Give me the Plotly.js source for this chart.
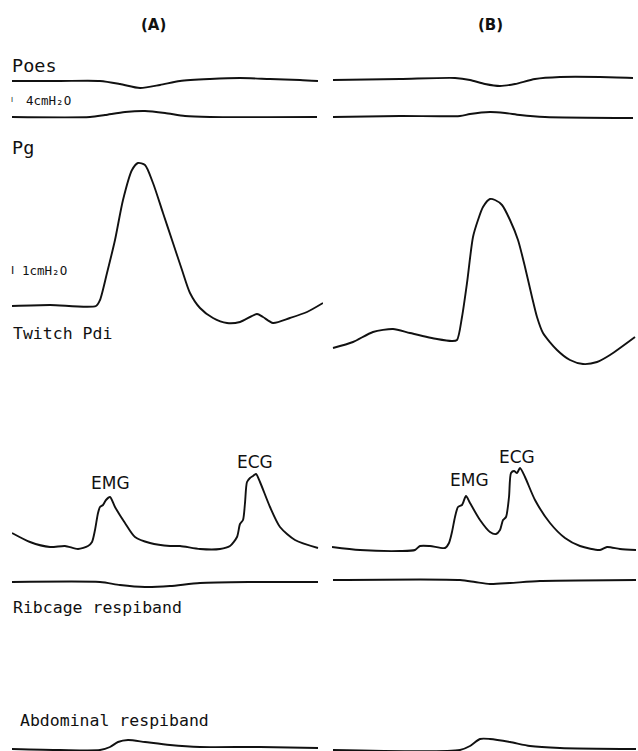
<!DOCTYPE html>
<html>
<head>
<meta charset="utf-8">
<script src="https://cdn.plot.ly/plotly-3.0.1.min.js"></script>
<style>html,body{margin:0;padding:0;background:#fff;}#chart{width:638px;height:751px;}</style>
</head>
<body>
<div id="chart"></div>
<script>
// ---- Data (time in arbitrary units, amplitude relative to channel baseline, up = positive) ----
// Panel A
const poesA_t = [0,48,88,108,128,148,168,198,228,258,288,306];
const poesA_v = [0,0,0,-3,-7,-4,0,2,3,2,1,0];
const pgA_t = [0,78,93,113,133,153,173,198,305];
const pgA_v = [0,0,2,5,6,4,1,0,0];
const pdiA_t = [0,38,84,88,95,103,111,120,126,133,141,151,161,170,178,188,201,215,228,245,251,261,278,295,311];
const pdiA_v = [0,1,0,6,33,66,106,136,143,141,123,93,63,36,13,-2,-12,-17,-16,-8,-11,-17,-12,-6,3];
const emgA_t = [0,18,38,53,66,76,80,83,86,88,91,94,98,103,113,123,138,158,168,188,208,218,225,228,231,233,235,238,241,244,248,258,268,283,306];
const emgA_v = [15,6,1,2,-1,2,6,18,35,41,43,48,51,41,25,11,5,2,2,-1,-1,2,11,24,28,45,66,70,72,74,66,41,21,8,0];
const ribA_t = [0,88,108,133,158,188,238,306];
const ribA_v = [0,0,-3,-5,-4,-1,0,0];
const abdA_t = [0,48,88,98,106,116,133,158,188,248,306];
const abdA_v = [1,0,0,3,8,10,8,5,3,3,2];
// Panel B
const poesB_t = [1,68,123,138,153,168,183,203,228,268,301];
const poesB_v = [1,2,3,1,-3,-5,-3,2,4,4,3];
const pgB_t = [1,68,128,138,158,173,188,213,301];
const pgB_v = [0,1,1,3,5,4,2,0,-1];
const pdiB_t = [1,21,41,61,78,105,120,125,130,135,141,146,151,158,163,170,178,186,193,200,205,211,225,238,251,265,278,303];
const pdiB_v = [-42,-36,-26,-23,-27,-33,-35,-34,-11,23,69,86,99,107,106,101,86,66,39,9,-11,-27,-44,-54,-58,-56,-49,-31];
const emgB_t = [0,28,68,83,88,98,113,117,120,123,126,130,134,138,148,158,164,168,171,174,177,179,182,185,188,193,203,218,233,248,268,275,288,304];
const emgB_v = [1,-2,-3,-2,2,2,0,5,16,31,41,43,52,45,28,16,14,18,28,31,51,75,77,75,80,71,48,25,10,2,-2,1,-1,-2];
const ribB_t = [1,128,143,158,178,208,304];
const ribB_v = [2,2,0,-2,-1,1,2];
const abdB_t = [1,128,138,148,158,178,198,228,304];
const abdB_v = [0,0,4,11,11,8,4,2,1];

const panelTitles = ['(A)','(B)'];
const channelLabels = ['Poes','Pg','Twitch Pdi','Ribcage respiband','Abdominal respiband'];
const calibBar = 'I';
const calibLabels = ['4cmH₂O','1cmH₂O'];
const markerLabels = ['EMG','ECG'];

// ---- Layout helpers ----
const W = 638, H = 751;
const px = x => x / W;
const py = y => 1 - y / H;
// channel baselines (pixel rows) -> axis ranges so that 1 unit = 1 px
const baselines = {y:81, y2:117, y3:306, y4:548, y5:582, y6:750};

const lineStyle = {color:'#111', width:1.9, shape:'spline', smoothing:0.7};
function tr(t, v, xa, ya){
  return {x:t, y:v, xaxis:xa, yaxis:ya, type:'scatter', mode:'lines', line:lineStyle, hoverinfo:'skip', showlegend:false, cliponaxis:false};
}
const data = [
  tr(poesA_t, poesA_v, 'x', 'y'),  tr(poesB_t, poesB_v, 'x2', 'y'),
  tr(pgA_t, pgA_v, 'x', 'y2'),     tr(pgB_t, pgB_v, 'x2', 'y2'),
  tr(pdiA_t, pdiA_v, 'x', 'y3'),   tr(pdiB_t, pdiB_v, 'x2', 'y3'),
  tr(emgA_t, emgA_v, 'x', 'y4'),   tr(emgB_t, emgB_v, 'x2', 'y4'),
  tr(ribA_t, ribA_v, 'x', 'y5'),   tr(ribB_t, ribB_v, 'x2', 'y5'),
  tr(abdA_t, abdA_v, 'x', 'y6'),   tr(abdB_t, abdB_v, 'x2', 'y6')
];

const layout = {
  width: W, height: H,
  margin: {l:0, r:0, t:0, b:0},
  paper_bgcolor: '#fff', plot_bgcolor: 'rgba(0,0,0,0)',
  showlegend: false,
  xaxis:  {domain:[px(12), px(323)], range:[0,311], visible:false, fixedrange:true, anchor:'y'},
  xaxis2: {domain:[px(332), px(636)], range:[0,304], visible:false, fixedrange:true, anchor:'y'},
  annotations: []
};
Object.keys(baselines).forEach(k => {
  const B = baselines[k];
  const name = k === 'y' ? 'yaxis' : 'yaxis' + k.slice(1);
  layout[name] = {domain:[0,1], range:[B - H, B], visible:false, fixedrange:true, anchor:'x'};
});

const mono = s => ({family:'DejaVu Sans Mono, monospace', size:s, color:'#111'});
const sans = s => ({family:'DejaVu Sans, sans-serif', size:s, color:'#111'});
function ann(text, x, y, font, xanchor){
  layout.annotations.push({text:text, x:px(x), y:py(y), xref:'paper', yref:'paper', showarrow:false, xanchor:xanchor||'left', yanchor:'middle', font:font});
}
ann('<b>' + panelTitles[0] + '</b>', 153, 25, sans(15), 'center');
ann('<b>' + panelTitles[1] + '</b>', 490, 25, sans(15), 'center');
ann(channelLabels[0], 10, 65, mono(18.5));
ann(channelLabels[1], 10, 147, mono(18.5));
ann(channelLabels[2], 11, 334, mono(16.5));
ann(channelLabels[3], 11, 607, mono(16.5));
ann(channelLabels[4], 18, 720, mono(16.5));
ann(calibBar, 9, 100, sans(7));
ann(calibLabels[0], 24, 100, mono(12.5));
ann(calibBar, 9, 270, sans(11));
ann(calibLabels[1], 20, 270, mono(12.5));
ann(markerLabels[0], 110, 483, sans(17), 'center');
ann(markerLabels[1], 255, 462, sans(17), 'center');
ann(markerLabels[0], 469, 480, sans(17), 'center');
ann(markerLabels[1], 517, 457, sans(17), 'center');

Plotly.newPlot('chart', data, layout, {staticPlot:true, displayModeBar:false});
</script>
</body>
</html>
